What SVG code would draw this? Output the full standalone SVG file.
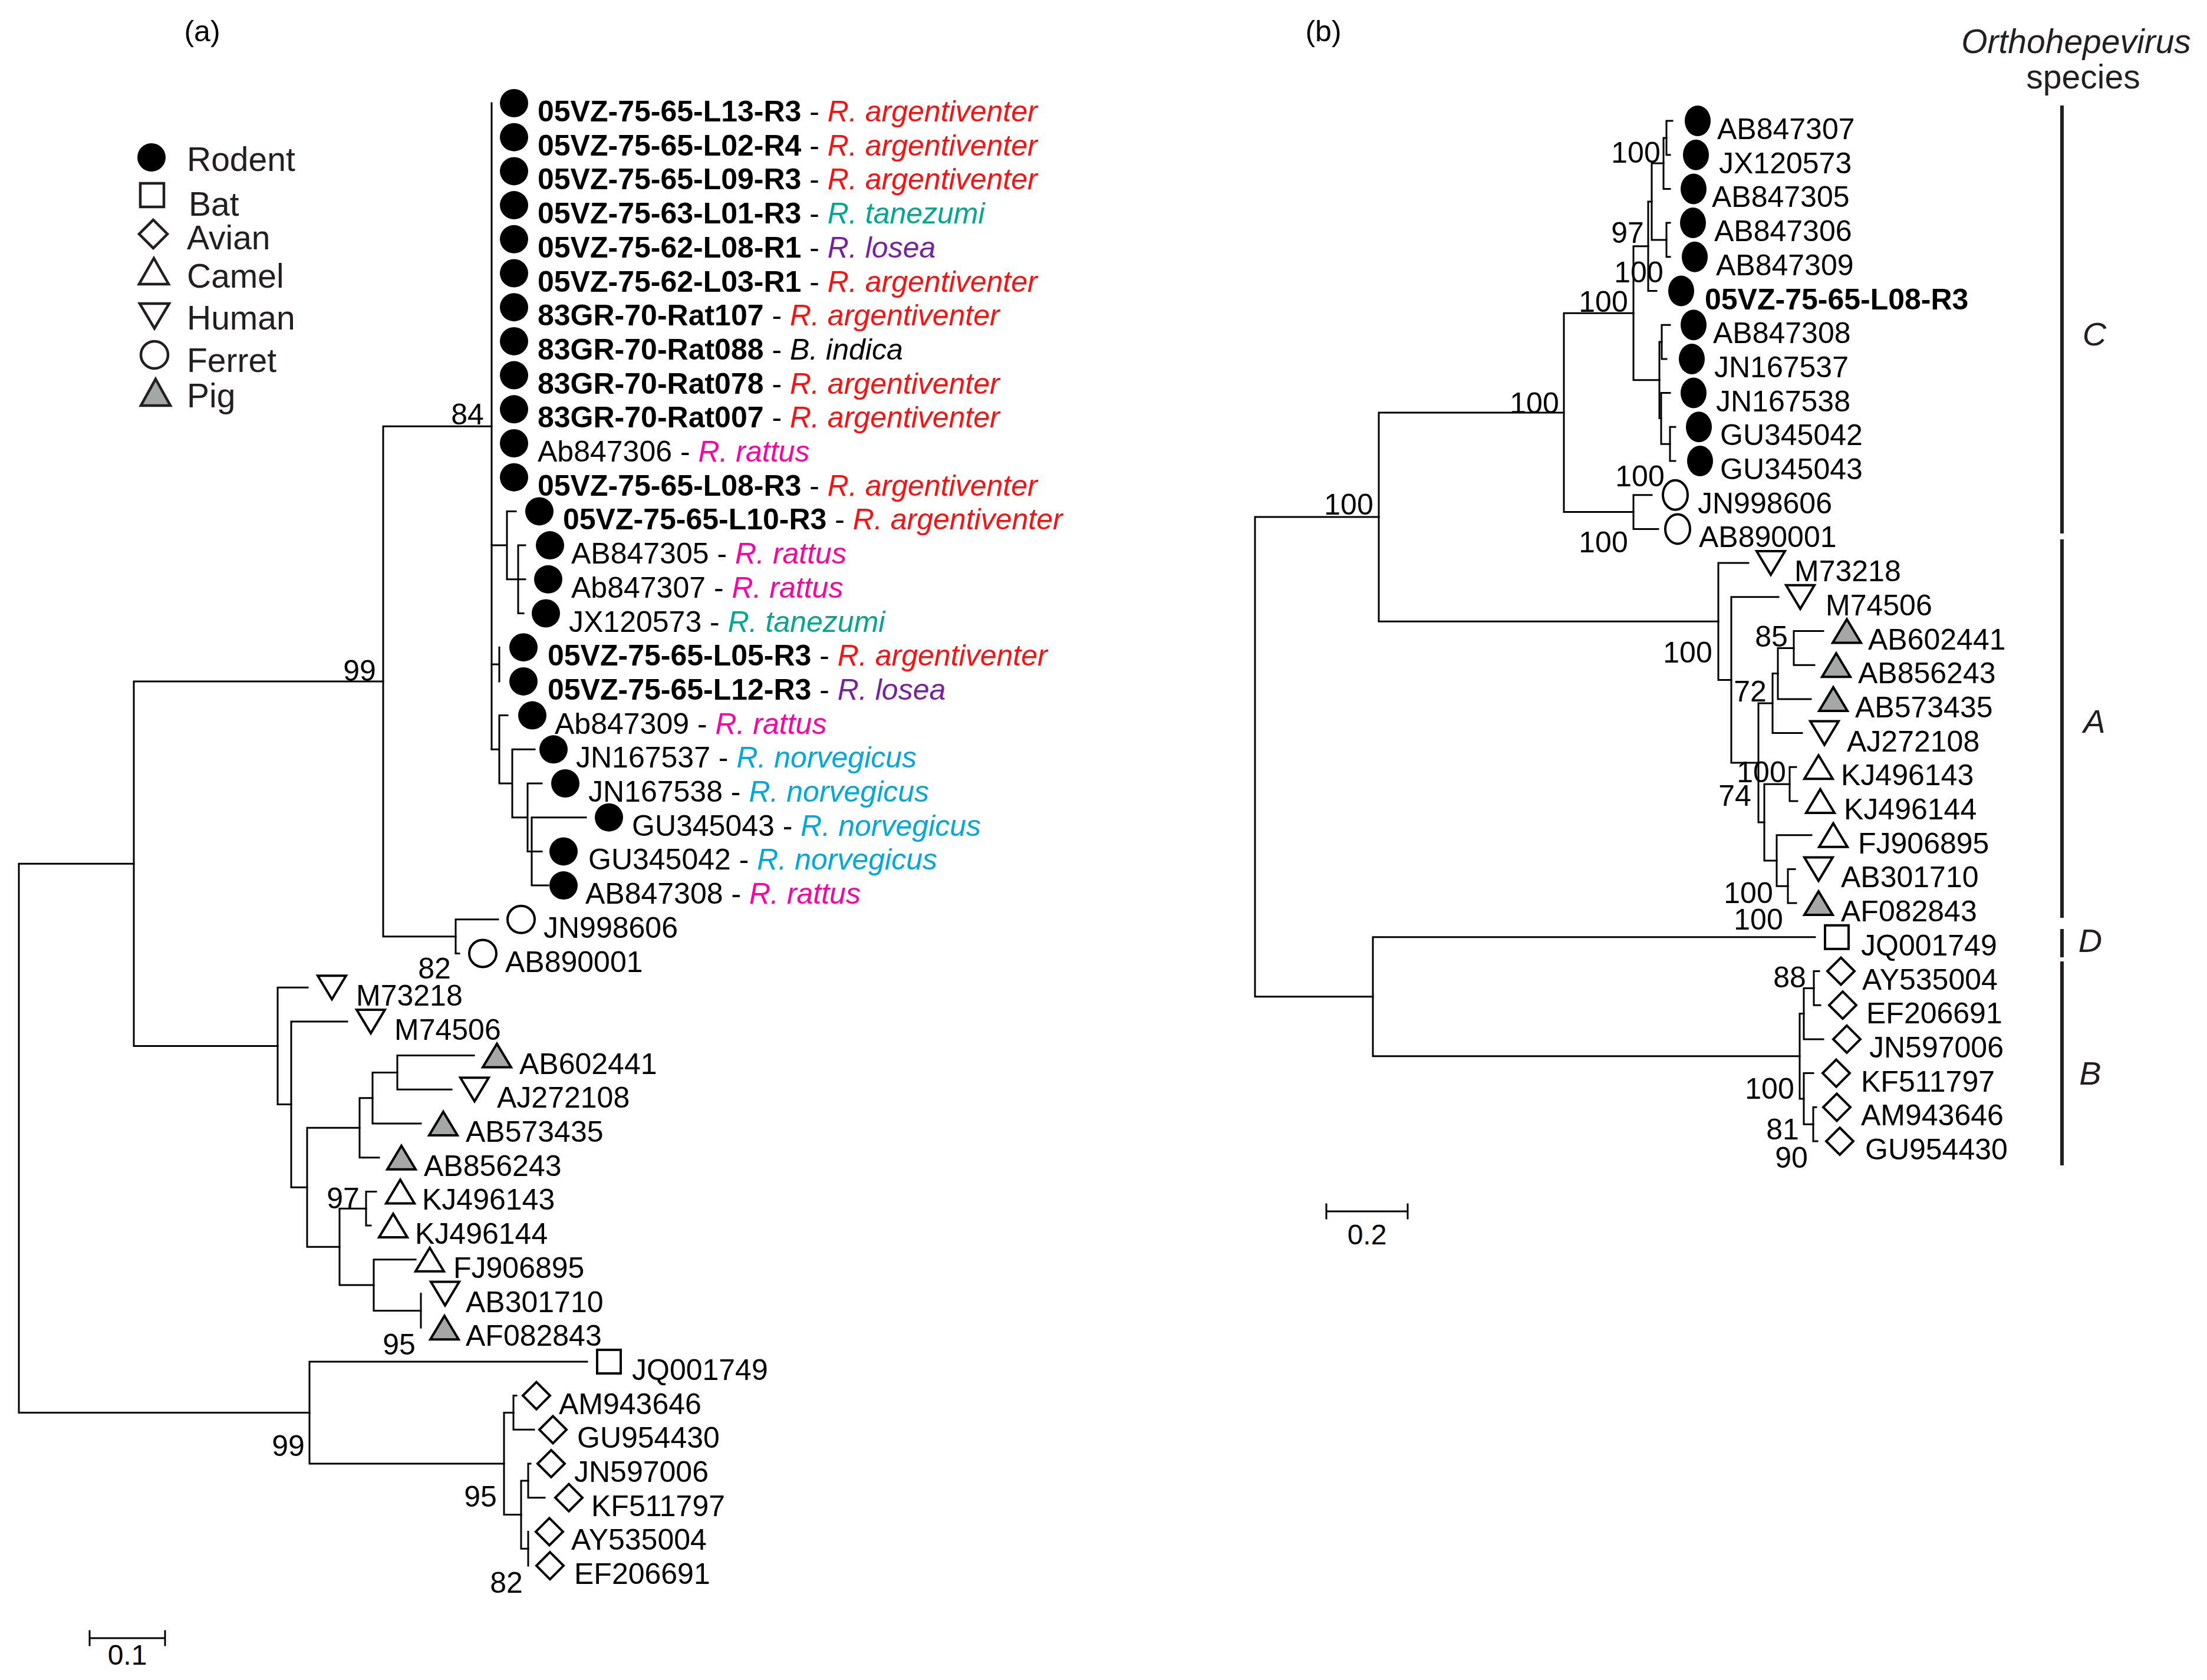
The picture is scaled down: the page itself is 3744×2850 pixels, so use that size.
<svg xmlns="http://www.w3.org/2000/svg" width="3744" height="2850" viewBox="0 0 3744 2850">
<style>
.ln{stroke:#000;stroke-width:3;fill:none;stroke-linecap:square}
.t{font-family:"Liberation Sans",Arial,sans-serif;font-size:50px;fill:#000}
.b{font-weight:bold}
.i{font-style:italic}
.bs{font-family:"Liberation Sans",Arial,sans-serif;font-size:50px;fill:#000;text-anchor:middle}
.lg{font-family:"Liberation Sans",Arial,sans-serif;font-size:57px;fill:#231f20}
.cl{font-family:"Liberation Sans",Arial,sans-serif;font-size:56px;fill:#231f20;font-style:italic;text-anchor:middle}
.mk{fill:#fff;stroke:#000;stroke-width:4}
.pigf{fill:#a5a7a6}
.arg{fill:#ff1010}
.tan{fill:#00a890}
.los{fill:#7a1fa0}
.rat{fill:#ff00a6}
.nor{fill:#00a8dc}
.bar{stroke:#231f20;stroke-width:6;fill:none}
</style>
<defs>
<circle id="rod" r="24" fill="#000"/>
<ellipse id="rodb" rx="22" ry="26" fill="#000"/>
<rect id="bat" x="-20" y="-20" width="40" height="40" class="mk"/>
<polygon id="av" points="0,-23 23,0 0,23 -23,0" class="mk"/>
<polygon id="cam" points="0,-20 24,20 -24,20" class="mk"/>
<polygon id="hum" points="-24,-20 24,-20 0,20" class="mk"/>
<polygon id="pig" points="0,-20 24,20 -24,20" class="mk pigf"/>
<circle id="fer" r="23" class="mk"/>
<ellipse id="ferb" rx="21" ry="25" class="mk"/>
</defs>
<rect width="3744" height="2850" fill="#fff"/>

<text x="343" y="70" class="t" text-anchor="middle">(a)</text>
<text x="2245" y="70" class="t" text-anchor="middle">(b)</text>

<g id="legend">
<use href="#rod" x="257" y="267"/><text x="317" y="290" class="lg">Rodent</text>
<rect x="238" y="311" width="40" height="40" fill="#fff" stroke="#231f20" stroke-width="4.5"/><text x="320" y="366" class="lg">Bat</text>
<polygon points="260,373 284,397 260,421 236,397" fill="#fff" stroke="#231f20" stroke-width="4.5"/><text x="317" y="423" class="lg">Avian</text>
<polygon points="261,438 286,482 236,482" fill="#fff" stroke="#231f20" stroke-width="4.5"/><text x="317" y="488" class="lg">Camel</text>
<polygon points="237,515 287,515 262,557" fill="#fff" stroke="#231f20" stroke-width="4.5"/><text x="317" y="559" class="lg">Human</text>
<circle cx="262" cy="602" r="23" fill="#fff" stroke="#231f20" stroke-width="4.5"/><text x="317" y="631" class="lg">Ferret</text>
<polygon points="264,643 289,688 239,688" fill="#a5a7a6" stroke="#231f20" stroke-width="4.5"/><text x="317" y="691" class="lg">Pig</text>
</g>

<g id="connectors-a" class="ln">
<path d="M32 1465.2V2396.5M32 1465.2H227M32 2396.5H525"/>
<path d="M227 1156V1774.4M227 1156H650M227 1774.4H471"/>
<path d="M650 723.2V1588.7M650 723.2H834M650 1588.7H773"/>
<path d="M834 175V1271.3"/>
<path d="M834 925.1H860M860 867.4V982.8M860 867.4H875M860 982.8H879M879 925.1V1040.5M879 925.1H891M879 982.8H891M879 1040.5H888"/>
<path d="M834 1127H847M847 1098.2V1155.9"/>
<path d="M834 1271.3H847M847 1213.6V1329M847 1213.6H861M847 1329H869M869 1271.3V1386.7M869 1271.3H907M869 1386.7H895M895 1329V1444.4M895 1329H919M895 1444.4H902M902 1386.7V1502.1M902 1386.7H994M902 1444.4H919M902 1502.1H930"/>
<path d="M773 1559.8V1617.5M773 1559.8H845M773 1617.5H779"/>
<path d="M471 1675.2V1873.6M471 1675.2H522M471 1873.6H494"/>
<path d="M494 1732.9V2014.2M494 1732.9H589M494 2014.2H521"/>
<path d="M521 1913.2V2115.2M521 1913.2H610M521 2115.2H576"/>
<path d="M610 1862.7V1963.7M610 1862.7H632M610 1963.7H643"/>
<path d="M632 1819.5V1906M632 1819.5H674M632 1906H714"/>
<path d="M674 1790.6V1848.3M674 1790.6H804M674 1848.3H766"/>
<path d="M576 2050.3V2180.1M576 2050.3H621M576 2180.1H634"/>
<path d="M621 2021.4V2079.1M621 2021.4H638M621 2079.1H629"/>
<path d="M634 2136.8V2223.4M634 2136.8H705M634 2223.4H714"/>
<path d="M714 2194.5V2252.2"/>
<path d="M525 2309.9V2483M525 2309.9H996M525 2483H855"/>
<path d="M855 2396.5V2569.6M855 2396.5H871M855 2569.6H884"/>
<path d="M871 2367.6V2425.3M871 2367.6H876M871 2425.3H906"/>
<path d="M884 2511.9V2627.3M884 2511.9H896M884 2627.3H896"/>
<path d="M896 2483V2540.7M896 2483H900M896 2540.7H924"/>
<path d="M896 2598.4V2656.1"/>
<path d="M152 2779H280M152 2767V2791M280 2767V2791"/>
</g>
<text x="216" y="2824" class="bs" style="font-size:48px">0.1</text>

<g id="bootstrap-a">
<text x="793" y="720" class="bs">84</text>
<text x="610" y="1155" class="bs">99</text>
<text x="737" y="1660" class="bs">82</text>
<text x="582" y="2050" class="bs">97</text>
<text x="677" y="2298" class="bs">95</text>
<text x="489" y="2470" class="bs">99</text>
<text x="815" y="2556" class="bs">95</text>
<text x="859" y="2702" class="bs">82</text>
</g>

<g id="a-L13-R3"><use href="#rod" x="872" y="175"/><text x="912" y="206" class="t"><tspan class="b">05VZ-75-65-L13-R3</tspan>  - <tspan class="i arg">R. argentiventer</tspan></text></g>
<g id="a-L02-R4"><use href="#rod" x="872" y="232.7"/><text x="912" y="263.7" class="t"><tspan class="b">05VZ-75-65-L02-R4</tspan> - <tspan class="i arg">R. argentiventer</tspan></text></g>
<g id="a-L09-R3"><use href="#rod" x="872" y="290.4"/><text x="912" y="321.4" class="t"><tspan class="b">05VZ-75-65-L09-R3</tspan> - <tspan class="i arg">R. argentiventer</tspan></text></g>
<g id="a-63-L01-R3"><use href="#rod" x="872" y="348.1"/><text x="912" y="379.1" class="t"><tspan class="b">05VZ-75-63-L01-R3</tspan> - <tspan class="i tan">R. tanezumi</tspan></text></g>
<g id="a-62-L08-R1"><use href="#rod" x="872" y="405.8"/><text x="912" y="436.8" class="t"><tspan class="b">05VZ-75-62-L08-R1</tspan> - <tspan class="i los">R. losea</tspan></text></g>
<g id="a-62-L03-R1"><use href="#rod" x="872" y="463.5"/><text x="912" y="494.5" class="t"><tspan class="b">05VZ-75-62-L03-R1</tspan> - <tspan class="i arg">R. argentiventer</tspan></text></g>
<g id="a-Rat107"><use href="#rod" x="872" y="521.2"/><text x="912" y="552.2" class="t"><tspan class="b">83GR-70-Rat107</tspan> - <tspan class="i arg">R. argentiventer</tspan></text></g>
<g id="a-Rat088"><use href="#rod" x="872" y="578.9"/><text x="912" y="609.9" class="t"><tspan class="b">83GR-70-Rat088</tspan> - <tspan class="i">B. indica</tspan></text></g>
<g id="a-Rat078"><use href="#rod" x="872" y="636.6"/><text x="912" y="667.6" class="t"><tspan class="b">83GR-70-Rat078</tspan>  - <tspan class="i arg">R. argentiventer</tspan></text></g>
<g id="a-Rat007"><use href="#rod" x="872" y="694.3"/><text x="912" y="725.3" class="t"><tspan class="b">83GR-70-Rat007</tspan> - <tspan class="i arg">R. argentiventer</tspan></text></g>
<g id="a-Ab847306"><use href="#rod" x="872" y="752"/><text x="912" y="783" class="t">Ab847306 - <tspan class="i rat">R. rattus</tspan></text></g>
<g id="a-L08-R3"><use href="#rod" x="872" y="809.7"/><text x="912" y="840.7" class="t"><tspan class="b">05VZ-75-65-L08-R3</tspan> - <tspan class="i arg">R. argentiventer</tspan></text></g>
<g id="a-L10-R3"><use href="#rod" x="915" y="867.4"/><text x="955" y="898.4" class="t"><tspan class="b">05VZ-75-65-L10-R3</tspan> - <tspan class="i arg">R. argentiventer</tspan></text></g>
<g id="a-AB847305"><use href="#rod" x="933" y="925.1"/><text x="969" y="956.1" class="t">AB847305 - <tspan class="i rat">R. rattus</tspan></text></g>
<g id="a-Ab847307"><use href="#rod" x="930" y="982.8"/><text x="969" y="1013.8" class="t">Ab847307 - <tspan class="i rat">R. rattus</tspan></text></g>
<g id="a-JX120573"><use href="#rod" x="926" y="1040.5"/><text x="965" y="1071.5" class="t">JX120573 - <tspan class="i tan">R. tanezumi</tspan></text></g>
<g id="a-L05-R3"><use href="#rod" x="888" y="1098.2"/><text x="929" y="1129.2" class="t"><tspan class="b">05VZ-75-65-L05-R3</tspan> - <tspan class="i arg">R. argentiventer</tspan></text></g>
<g id="a-L12-R3"><use href="#rod" x="888" y="1155.9"/><text x="929" y="1186.9" class="t"><tspan class="b">05VZ-75-65-L12-R3</tspan> - <tspan class="i los">R. losea</tspan></text></g>
<g id="a-Ab847309"><use href="#rod" x="903" y="1213.6"/><text x="941" y="1244.6" class="t">Ab847309 - <tspan class="i rat">R. rattus</tspan></text></g>
<g id="a-JN167537"><use href="#rod" x="939" y="1271.3"/><text x="977" y="1302.3" class="t">JN167537 - <tspan class="i nor">R. norvegicus</tspan></text></g>
<g id="a-JN167538"><use href="#rod" x="959" y="1329"/><text x="998" y="1360" class="t">JN167538 - <tspan class="i nor">R. norvegicus</tspan></text></g>
<g id="a-GU345043"><use href="#rod" x="1033" y="1386.7"/><text x="1072" y="1417.7" class="t">GU345043 - <tspan class="i nor">R. norvegicus</tspan></text></g>
<g id="a-GU345042"><use href="#rod" x="956" y="1444.4"/><text x="998" y="1475.4" class="t">GU345042 - <tspan class="i nor">R. norvegicus</tspan></text></g>
<g id="a-AB847308"><use href="#rod" x="956" y="1502.1"/><text x="993" y="1533.1" class="t">AB847308 - <tspan class="i rat">R. rattus</tspan></text></g>
<g id="a-JN998606"><use href="#fer" x="884" y="1559.8"/><text x="922" y="1590.8" class="t">JN998606</text></g>
<g id="a-AB890001"><use href="#fer" x="819" y="1617.5"/><text x="857" y="1648.5" class="t">AB890001</text></g>
<g id="a-M73218"><use href="#hum" x="563" y="1675.2"/><text x="604" y="1706.2" class="t">M73218</text></g>
<g id="a-M74506"><use href="#hum" x="629" y="1732.9"/><text x="669" y="1763.9" class="t">M74506</text></g>
<g id="a-AB602441"><use href="#pig" x="843" y="1790.6"/><text x="881" y="1821.6" class="t">AB602441</text></g>
<g id="a-AJ272108"><use href="#hum" x="805" y="1848.3"/><text x="843" y="1879.3" class="t">AJ272108</text></g>
<g id="a-AB573435"><use href="#pig" x="752" y="1906"/><text x="790" y="1937" class="t">AB573435</text></g>
<g id="a-AB856243"><use href="#pig" x="681" y="1963.7"/><text x="719" y="1994.7" class="t">AB856243</text></g>
<g id="a-KJ496143"><use href="#cam" x="679" y="2021.4"/><text x="716" y="2052.4" class="t">KJ496143</text></g>
<g id="a-KJ496144"><use href="#cam" x="667" y="2079.1"/><text x="704" y="2110.1" class="t">KJ496144</text></g>
<g id="a-FJ906895"><use href="#cam" x="729" y="2136.8"/><text x="769" y="2167.8" class="t">FJ906895</text></g>
<g id="a-AB301710"><use href="#hum" x="755" y="2194.5"/><text x="790" y="2225.5" class="t">AB301710</text></g>
<g id="a-AF082843"><use href="#pig" x="754" y="2252.2"/><text x="790" y="2283.2" class="t">AF082843</text></g>
<g id="a-JQ001749"><use href="#bat" x="1033" y="2309.9"/><text x="1072" y="2340.9" class="t">JQ001749</text></g>
<g id="a-AM943646"><use href="#av" x="910" y="2367.6"/><text x="948" y="2398.6" class="t">AM943646</text></g>
<g id="a-GU954430"><use href="#av" x="938" y="2425.3"/><text x="979" y="2456.3" class="t">GU954430</text></g>
<g id="a-JN597006"><use href="#av" x="935" y="2483"/><text x="974" y="2514" class="t">JN597006</text></g>
<g id="a-KF511797"><use href="#av" x="965" y="2540.7"/><text x="1003" y="2571.7" class="t">KF511797</text></g>
<g id="a-AY535004"><use href="#av" x="932" y="2598.4"/><text x="969" y="2629.4" class="t">AY535004</text></g>
<g id="a-EF206691"><use href="#av" x="933" y="2656.1"/><text x="974" y="2687.1" class="t">EF206691</text></g>

<g id="connectors-b" class="ln">
<path d="M2129 877.1V1690.8M2129 877.1H2339M2129 1690.8H2329"/>
<path d="M2339 699.9V1054.3M2339 699.9H2653M2339 1054.3H2915"/>
<path d="M2653 531.3V868.5M2653 531.3H2771M2653 868.5H2771"/>
<path d="M2771 417.8V644.8M2771 417.8H2796M2771 644.8H2815"/>
<path d="M2796 342V493.5M2796 342H2802M2796 493.5H2810"/>
<path d="M2802 277V407M2802 277H2822M2802 407H2827"/>
<path d="M2822 233.9V320.4M2822 233.9H2827M2822 320.4H2833"/>
<path d="M2827 205V262.7M2827 205H2837M2827 262.7H2833"/>
<path d="M2827 378.1V435.8M2827 378.1H2833M2827 435.8H2833"/>
<path d="M2815 580V709.6M2815 580H2819M2815 709.6H2818"/>
<path d="M2819 551.2V608.9M2819 551.2H2833M2819 608.9H2827"/>
<path d="M2818 666.6V753.2M2818 666.6H2833M2818 753.2H2833"/>
<path d="M2833 724.3V782M2833 724.3H2842M2833 782H2842"/>
<path d="M2771 839.7V897.4M2771 839.7H2802M2771 897.4H2813"/>
<path d="M2915 955.1V1153.5M2915 955.1H2966M2915 1153.5H2937"/>
<path d="M2937 1012.8V1294.1M2937 1012.8H3017M2937 1294.1H2983"/>
<path d="M2983 1193.1V1395.1M2983 1193.1H3007M2983 1395.1H2993"/>
<path d="M3007 1142.6V1243.6M3007 1142.6H3016M3007 1243.6H3057"/>
<path d="M3016 1099.4V1185.9M3016 1099.4H3043M3016 1185.9H3072"/>
<path d="M3043 1070.5V1128.2M3043 1070.5H3093M3043 1128.2H3078"/>
<path d="M2993 1330.2V1460M2993 1330.2H3036M2993 1460H3014"/>
<path d="M3036 1301.3V1359M3036 1301.3H3047M3036 1359H3049"/>
<path d="M3014 1416.7V1503.3M3014 1416.7H3073M3014 1503.3H3033"/>
<path d="M3033 1474.4V1532.1M3033 1474.4H3045M3033 1532.1H3047"/>
<path d="M2329 1589.8V1791.8M2329 1589.8H3079M2329 1791.8H3053"/>
<path d="M3053 1719.6V1863.9M3053 1719.6H3060M3053 1863.9H3060"/>
<path d="M3060 1676.4V1762.9M3060 1676.4H3077M3060 1762.9H3093"/>
<path d="M3077 1647.5V1705.2M3077 1647.5H3086M3077 1705.2H3088"/>
<path d="M3060 1820.6V1907.2M3060 1820.6H3076M3060 1907.2H3076"/>
<path d="M3076 1878.3V1936M3076 1878.3H3081M3076 1936H3083"/>
<path d="M2250 2055H2388M2250 2043V2067M2388 2043V2067"/>
</g>
<text x="2319" y="2111" class="bs" style="font-size:48px">0.2</text>

<g id="bootstrap-b">
<text x="2775" y="276" class="bs">100</text>
<text x="2761" y="412" class="bs">97</text>
<text x="2780" y="479" class="bs">100</text>
<text x="2720" y="529" class="bs">100</text>
<text x="2603" y="701" class="bs">100</text>
<text x="2782" y="825" class="bs">100</text>
<text x="2288" y="873" class="bs">100</text>
<text x="2720" y="937" class="bs">100</text>
<text x="2863" y="1124" class="bs">100</text>
<text x="3005" y="1097" class="bs">85</text>
<text x="2969" y="1190" class="bs">72</text>
<text x="2988" y="1327" class="bs">100</text>
<text x="2943" y="1367" class="bs">74</text>
<text x="2966" y="1532" class="bs">100</text>
<text x="2983" y="1577" class="bs">100</text>
<text x="3036" y="1675" class="bs">88</text>
<text x="3002" y="1864" class="bs">100</text>
<text x="3024" y="1933" class="bs">81</text>
<text x="3039" y="1981" class="bs">90</text>
</g>

<g id="b-AB847307"><use href="#rodb" x="2880" y="205"/><text x="2913" y="236" class="t">AB847307</text></g>
<g id="b-JX120573"><use href="#rodb" x="2877" y="262.7"/><text x="2916" y="293.7" class="t">JX120573</text></g>
<g id="b-AB847305"><use href="#rodb" x="2873" y="320.4"/><text x="2904" y="351.4" class="t">AB847305</text></g>
<g id="b-AB847306"><use href="#rodb" x="2872" y="378.1"/><text x="2908" y="409.1" class="t">AB847306</text></g>
<g id="b-AB847309"><use href="#rodb" x="2875" y="435.8"/><text x="2911" y="466.8" class="t">AB847309</text></g>
<g id="b-L08-R3"><use href="#rodb" x="2852" y="493.5"/><text x="2892" y="524.5" class="t b">05VZ-75-65-L08-R3</text></g>
<g id="b-AB847308"><use href="#rodb" x="2873" y="551.2"/><text x="2906" y="582.2" class="t">AB847308</text></g>
<g id="b-JN167537"><use href="#rodb" x="2870" y="608.9"/><text x="2908" y="639.9" class="t">JN167537</text></g>
<g id="b-JN167538"><use href="#rodb" x="2873" y="666.6"/><text x="2911" y="697.6" class="t">JN167538</text></g>
<g id="b-GU345042"><use href="#rodb" x="2882" y="724.3"/><text x="2918" y="755.3" class="t">GU345042</text></g>
<g id="b-GU345043"><use href="#rodb" x="2884" y="782"/><text x="2918" y="813" class="t">GU345043</text></g>
<g id="b-JN998606"><use href="#ferb" x="2842" y="839.7"/><text x="2880" y="870.7" class="t">JN998606</text></g>
<g id="b-AB890001"><use href="#ferb" x="2846" y="897.4"/><text x="2882" y="928.4" class="t">AB890001</text></g>
<g id="b-M73218"><use href="#hum" x="3004" y="955.1"/><text x="3044" y="986.1" class="t">M73218</text></g>
<g id="b-M74506"><use href="#hum" x="3054" y="1012.8"/><text x="3097" y="1043.8" class="t">M74506</text></g>
<g id="b-AB602441"><use href="#pig" x="3133" y="1070.5"/><text x="3169" y="1101.5" class="t">AB602441</text></g>
<g id="b-AB856243"><use href="#pig" x="3115" y="1128.2"/><text x="3152" y="1159.2" class="t">AB856243</text></g>
<g id="b-AB573435"><use href="#pig" x="3110" y="1185.9"/><text x="3147" y="1216.9" class="t">AB573435</text></g>
<g id="b-AJ272108"><use href="#hum" x="3095" y="1243.6"/><text x="3133" y="1274.6" class="t">AJ272108</text></g>
<g id="b-KJ496143"><use href="#cam" x="3085" y="1301.3"/><text x="3123" y="1332.3" class="t">KJ496143</text></g>
<g id="b-KJ496144"><use href="#cam" x="3088" y="1359"/><text x="3128" y="1390" class="t">KJ496144</text></g>
<g id="b-FJ906895"><use href="#cam" x="3110" y="1416.7"/><text x="3152" y="1447.7" class="t">FJ906895</text></g>
<g id="b-AB301710"><use href="#hum" x="3085" y="1474.4"/><text x="3123" y="1505.4" class="t">AB301710</text></g>
<g id="b-AF082843"><use href="#pig" x="3085" y="1532.1"/><text x="3123" y="1563.1" class="t">AF082843</text></g>
<g id="b-JQ001749"><use href="#bat" x="3116" y="1589.8"/><text x="3157" y="1620.8" class="t">JQ001749</text></g>
<g id="b-AY535004"><use href="#av" x="3123" y="1647.5"/><text x="3159" y="1678.5" class="t">AY535004</text></g>
<g id="b-EF206691"><use href="#av" x="3126" y="1705.2"/><text x="3166" y="1736.2" class="t">EF206691</text></g>
<g id="b-JN597006"><use href="#av" x="3133" y="1762.9"/><text x="3171" y="1793.9" class="t">JN597006</text></g>
<g id="b-KF511797"><use href="#av" x="3115" y="1820.6"/><text x="3157" y="1851.6" class="t">KF511797</text></g>
<g id="b-AM943646"><use href="#av" x="3116" y="1878.3"/><text x="3157" y="1909.3" class="t">AM943646</text></g>
<g id="b-GU954430"><use href="#av" x="3121" y="1936"/><text x="3164" y="1967" class="t">GU954430</text></g>

<g id="species-bars">
<text x="3522" y="90" class="cl" style="font-size:57px">Orthohepevirus</text>
<text x="3534" y="150" class="lg" text-anchor="middle">species</text>
<path class="bar" d="M3498 179V905M3498 915V1557M3498 1576V1624M3498 1631V1977"/>
<text x="3553" y="586" class="cl">C</text>
<text x="3553" y="1243" class="cl">A</text>
<text x="3546" y="1615" class="cl">D</text>
<text x="3546" y="1840" class="cl">B</text>
</g>
</svg>
